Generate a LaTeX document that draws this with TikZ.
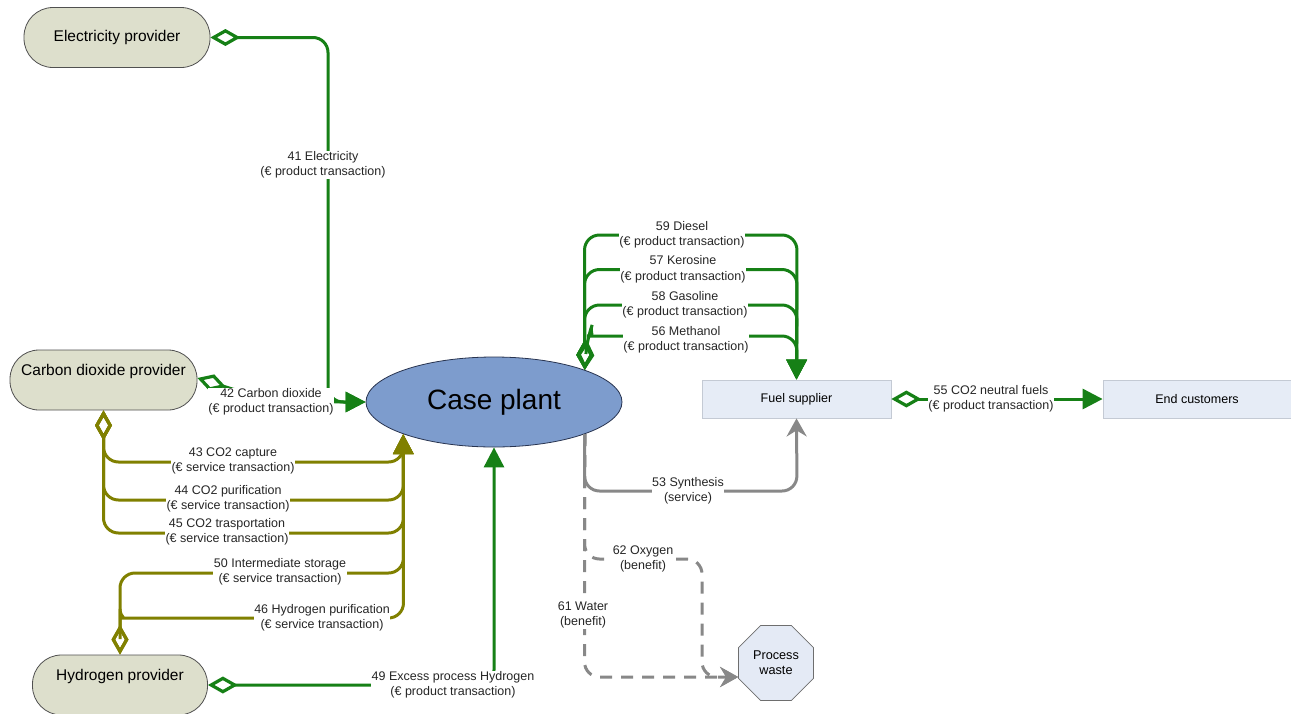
\documentclass[tikz,border=0pt]{standalone}
\usepackage{fontspec}
\setmainfont{Liberation Sans}
\usetikzlibrary{arrows.meta,shapes.geometric}
\definecolor{cgreen}{RGB}{22,128,22}
\definecolor{colive}{RGB}{128,128,0}
\definecolor{cgrey}{RGB}{136,136,136}
\definecolor{provfill}{RGB}{221,223,204}
\definecolor{provborder}{RGB}{80,80,80}
\definecolor{plantfill}{RGB}{125,156,205}
\definecolor{plantborder}{RGB}{40,52,80}
\definecolor{boxfill}{RGB}{230,236,246}
\definecolor{boxborder}{RGB}{196,202,212}
\definecolor{wastefill}{RGB}{228,234,245}
\definecolor{wasteborder}{RGB}{110,110,110}
\newcommand\lblfont{\fontsize{12.5}{15.5}\selectfont}
\begin{document}
\begin{tikzpicture}[x=1pt,y=-1pt,
  lbl/.style={fill=white,inner sep=0.5pt,align=center,font=\lblfont,text=black!85},
  prov/.style={draw=provborder,fill=provfill,rounded corners=29pt,minimum height=60pt,
    inner sep=0pt,line width=0.8pt,font=\fontsize{15.5}{18}\selectfont},
  fbox/.style={draw=boxborder,fill=boxfill,minimum height=38pt,inner sep=0pt,
    line width=0.8pt,font=\fontsize{12.5}{15}\selectfont},
  gline/.style={draw=cgreen,line width=3pt,rounded corners=15pt},
  oline/.style={draw=colive,line width=3pt,rounded corners=15pt},
  rline/.style={draw=cgrey,line width=3pt,rounded corners=15pt},
  garrow/.style={arrows={{Diamond[open,length=30pt,width=17pt,line width=3.2pt]}-{Triangle[length=20pt,width=20pt]}}},
  oarrow/.style={arrows={{Diamond[open,length=30pt,width=17pt,line width=3.2pt]}-{Triangle[length=20pt,width=20pt]}}},
  rarrow/.style={arrows={-{Stealth[length=18pt,width=20pt,inset=6pt]}}},
  dashline/.style={dash pattern=on 12pt off 9pt}
]
\useasboundingbox (0,0) rectangle (1291,713);
\fill[white] (0,0) rectangle (1291,713);
\clip (0,0) rectangle (1291,713);

% nodes
\node[prov,minimum width=186pt] (elec) at (117,37.5) {Electricity provider};
\node[prov,minimum width=187pt,text height=11pt,text depth=20pt] (co2) at (103.5,380) {Carbon dioxide provider};
\node[prov,minimum width=175pt,text height=11pt,text depth=20pt] (hyd) at (120,685) {Hydrogen provider};
\node[ellipse,draw=plantborder,fill=plantfill,line width=0.8pt,minimum width=256pt,minimum height=90pt,
  inner sep=0pt,font=\fontsize{28}{32}\selectfont] (plant) at (494,402) {Case plant};
\node[fbox,minimum width=189pt] (fuel) at (796.5,399) {Fuel supplier};
\node[fbox,minimum width=188pt] (end) at (1197,399) {End customers};
\node[regular polygon,regular polygon sides=8,minimum size=81pt,draw=wasteborder,fill=wastefill,
  line width=0.8pt,inner sep=0pt,align=center,font=\fontsize{12.7}{15}\selectfont] (pw) at (776,663) {Process\\waste};

% green product connectors
\draw[gline,garrow] (elec.east) -- (328,37.5) -- (328,402) -- (plant.west);
\draw[gline,garrow] ([yshift=2pt]co2.east) -- (245,393) -- (330,402) -- (plant.west);
\draw[gline,garrow] (hyd.east) -- (494,685) -- (plant.south);
\draw[gline,garrow] (plant.north east) -- (584.5,235) -- (797,235) -- (fuel.north);
\draw[gline,garrow] (plant.north east) -- (584.5,269.5) -- (797,269.5) -- (fuel.north);
\draw[gline,garrow] (plant.north east) -- (584.5,305) -- (797,305) -- (fuel.north);
\draw[gline,garrow] (plant.north east) -- (587,339) to[out=70,in=180] (602,336) -- (797,336) -- (fuel.north);
\draw[gline,garrow] (fuel.east) -- (end.west);

% olive service connectors
\draw[oline,oarrow] (co2.south) -- (103.5,462) -- (403.5,462) -- (plant.south west);
\draw[oline,oarrow] (co2.south) -- (103.5,500) -- (403.5,500) -- (plant.south west);
\draw[oline,oarrow] (co2.south) -- (103.5,533) -- (403.5,533) -- (plant.south west);
\draw[oline,oarrow] (hyd.north) -- (120,573) -- (403.5,573) -- (plant.south west);
\draw[oline,oarrow] (hyd.north) -- (120,624) to[out=90,in=180] (134,618) -- (403.5,618) -- (plant.south west);

% grey connectors
\draw[rline,rarrow] (plant.south east) -- (584.5,491) -- (797,491) -- (fuel.south);
\draw[rline,rarrow,dashline] (plant.south east) -- (584.5,677) -- ([yshift=-14pt]pw.west);
\draw[rline,rarrow,dashline] (plant.south east) -- (584.5,559) -- (702,559) -- (702,677) -- ([yshift=-14pt]pw.west);

% labels
\node[lbl] (l41) at (323,165) {41 Electricity\\(€ product transaction)};
\node[lbl] (l42) at (271,402) {42 Carbon dioxide\\(€ product transaction)};
\node[lbl] (l43) at (233,461) {43 CO2 capture\\(€ service transaction)};
\node[lbl] (l44) at (228,499) {44 CO2 purification\\(€ service transaction)};
\node[lbl] (l45) at (227,532) {45 CO2 trasportation\\(€ service transaction)};
\node[lbl] (l50) at (280,572) {50 Intermediate storage\\(€ service transaction)};
\node[lbl] (l46) at (322,618) {46 Hydrogen purification\\(€ service transaction)};
\node[lbl] (l49) at (453,685) {49 Excess process Hydrogen\\(€ product transaction)};
\node[lbl] (l59) at (682,235) {59 Diesel\\(€ product transaction)};
\node[lbl] (l57) at (683,269.5) {57 Kerosine\\(€ product transaction)};
\node[lbl] (l58) at (685,305) {58 Gasoline\\(€ product transaction)};
\node[lbl] (l56) at (686,340) {56 Methanol\\(€ product transaction)};
\node[lbl] (l55) at (991,399) {55 CO2 neutral fuels\\(€ product transaction)};
\node[lbl] (l53) at (688,491) {53 Synthesis\\(service)};
\node[lbl] (l62) at (643,559) {62 Oxygen\\(benefit)};
\node[lbl] (l61) at (583,615) {61 Water\\(benefit)};
\end{tikzpicture}
\end{document}
